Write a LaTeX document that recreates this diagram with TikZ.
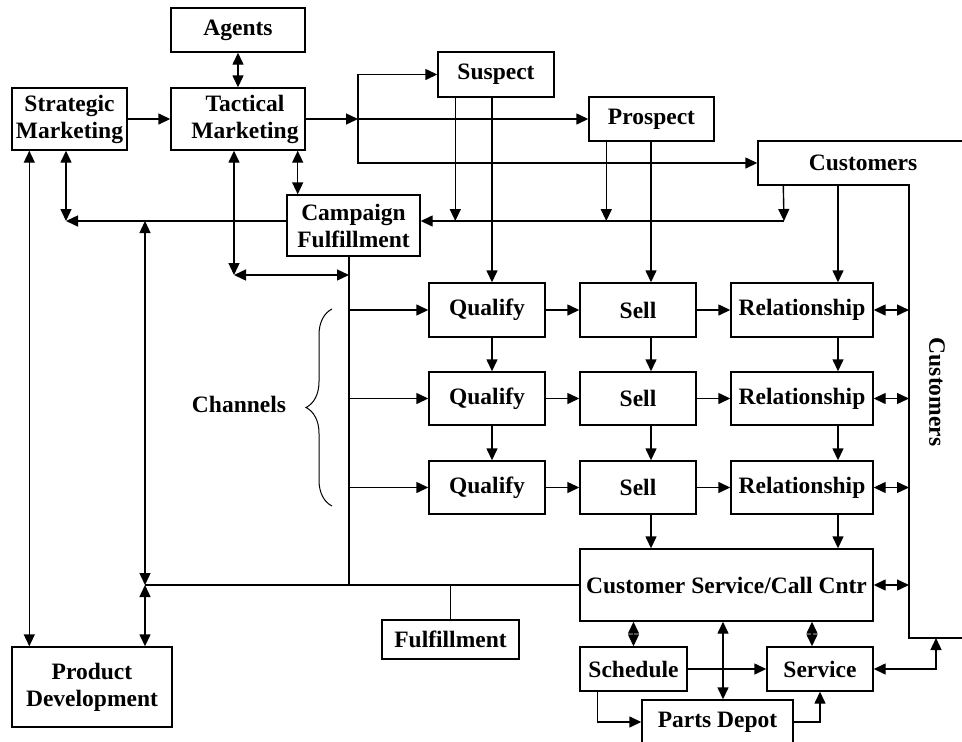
\documentclass[tikz,border=0pt]{standalone}
\usepackage{fontspec}
\setmainfont{Liberation Serif}
\usetikzlibrary{arrows.meta,decorations.pathreplacing}

\begin{document}
\begin{tikzpicture}[->,>={Triangle[length=12pt,width=11pt]},x=1pt,y=-1pt,line width=1.4pt,font=\bfseries\fontsize{23.5}{27}\selectfont]
    \tikzstyle{box}=[draw=black,rectangle,align=center,inner sep=0pt]
    \useasboundingbox (0,0) rectangle (962,742);
    \clip (0,0) rectangle (962,742);
    \node[box,minimum width=115,minimum height=62]  (1) at (69.5,119)   {Strategic\\Marketing};
    \node[box,minimum width=134,minimum height=62]  (2) at (238,119)    {\hspace*{14pt}Tactical\\\hspace*{14pt}Marketing};
    \node[box,minimum width=134,minimum height=44]  (3) at (238,30)     {Agents};
    \node[box,minimum width=116,minimum height=45]  (4) at (496,74.5)   {Suspect};
    \node[box,minimum width=125,minimum height=44]  (5) at (651.5,119)  {Prospect};
    \node[rectangle,inner sep=0pt,minimum width=210,minimum height=44] (6) at (863,163) {Customers};
    \node[rotate=-90]                               (7) at (937,392)    {Customers};
    \node[box,minimum width=133,minimum height=61]  (8) at (353.5,225.5) {Campaign\\Fulfillment};
    \node[box,minimum width=160,minimum height=80]  (9) at (92,687)     {Product\\Development};
    \node[box,minimum width=137,minimum height=39]  (10) at (450.5,639.5) {Fulfillment};
    \node[box,minimum width=116,minimum height=54]  (11) at (487,310)   {Qualify};
    \node[box,minimum width=116,minimum height=53]  (12) at (487,398.5) {Qualify};
    \node[box,minimum width=116,minimum height=53]  (13) at (487,487.5) {Qualify};
    \node[box,minimum width=116,minimum height=54]  (14) at (638,310)   {Sell};
    \node[box,minimum width=116,minimum height=53]  (15) at (638,398.5) {Sell};
    \node[box,minimum width=116,minimum height=53]  (16) at (638,487.5) {Sell};
    \node[box,minimum width=142,minimum height=54]  (17) at (802,310)   {Relationship};
    \node[box,minimum width=142,minimum height=53]  (18) at (802,398.5) {Relationship};
    \node[box,minimum width=142,minimum height=53]  (19) at (802,487.5) {Relationship};
    \node[box,minimum width=293,minimum height=72]  (20) at (726.5,585) {Customer Service/Call Cntr};
    \node[box,minimum width=107,minimum height=44]  (21) at (633.5,669) {Schedule};
    \node[box,minimum width=106,minimum height=44]  (22) at (820,669)   {Service};
    \node[box,minimum width=151,minimum height=44]  (23) at (717.5,722) {Parts Depot};
    \node                                           (24) at (239,404)   {Channels};
    \coordinate (j1) at (358,119);
    \coordinate (j2) at (234,275);
    \coordinate (j3) at (349,275);
    \coordinate (j4) at (145,585);
    \coordinate (j5) at (145,221);
    \coordinate (j6) at (66,221);
    \coordinate (j7) at (784,221);
    \coordinate (j8) at (349,585);
    \coordinate (j9) at (936,638);
    \coordinate (cq) at (492,0);
    \coordinate (cs) at (651,0);
    \coordinate (cr) at (838,0);
    \coordinate (cl) at (909,0);
    \coordinate (cp) at (723,0);
    \coordinate (cv) at (812,0);
    \draw[-] (970,141) -- (758,141) -- (758,185) -- (909,185) -- (909,638) -- (970,638);
    \draw[-,line width=1pt,decorate,decoration={brace,amplitude=26pt}] (332,506) -- (332,309);
    \draw[<->] (3) -- (2);
    \path (1) edge (2)
    (2) edge (j1)
    (j1) edge (5);
    \draw (j1) |- (4);
    \draw (j1) |- (6.west);
    \draw[<->] (2.south -| j2) -- (j2);
    \draw[<->] (j2) -- (j3);
    \draw[<->] ([xshift=-8pt]2.south east) -- ([xshift=-8pt]2.south east |- 8.north);
    \draw[<->] (1.south -| j6) -- (j6);
    \draw (8.west |- j6) -- (j6);
    \draw[<->] ([xshift=18pt]1.south west) -- ([xshift=18pt]9.north west);
    \draw[<->] (j5) -- (j4);
    \draw[<->] (j4) -- (9.north -| j4);
    \draw[-] (j4) -- (20.west);
    \draw[-] (8.south -| j8) -- (j8);
    \draw[-] (10.north) -- (10.north |- j4);
    \draw (11.west -| j8) -- (11.west);
    \draw (12.west -| j8) -- (12.west);
    \draw (13.west -| j8) -- (13.west);
    \draw (4.south -| cq) -- (11.north -| cq);
    \draw ([xshift=18pt]4.south west) -- ([xshift=18pt]4.south west |- j7);
    \draw (5.south -| cs) -- (14.north -| cs);
    \draw ([xshift=18pt]5.south west) -- ([xshift=18pt]5.south west |- j7);
    \draw ([xshift=26pt]6.south west) -- (j7);
    \draw (j7) -- (8.east |- j7);
    \draw (6.south -| cr) -- (17.north -| cr);
    \path (11) edge (14)
    (14) edge (17)
    (12) edge (15)
    (15) edge (18)
    (13) edge (16)
    (16) edge (19);
    \draw (11.south -| cq) -- (12.north -| cq);
    \draw (12.south -| cq) -- (13.north -| cq);
    \draw (14.south -| cs) -- (15.north -| cs);
    \draw (15.south -| cs) -- (16.north -| cs);
    \draw (16.south -| cs) -- (20.north -| cs);
    \draw (17.south -| cr) -- (18.north -| cr);
    \draw (18.south -| cr) -- (19.north -| cr);
    \draw (19.south -| cr) -- (20.north -| cr);
    \draw[<->] (17.east) -- (17.east -| cl);
    \draw[<->] (18.east) -- (18.east -| cl);
    \draw[<->] (19.east) -- (19.east -| cl);
    \draw[<->] (20.east) -- (20.east -| cl);
    \draw[<->] (20.south -| 21) -- (21.north);
    \draw[<->] (20.south -| cp) -- (23.north -| cp);
    \draw[<->] (20.south -| cv) -- (22.north -| cv);
    \draw (21) -- (22);
    \draw ([xshift=18pt]21.south west) |- (23.west);
    \draw (23.east) -| (22.south);
    \draw[<->] (22.east) -| (j9);
\end{tikzpicture}
\end{document}
